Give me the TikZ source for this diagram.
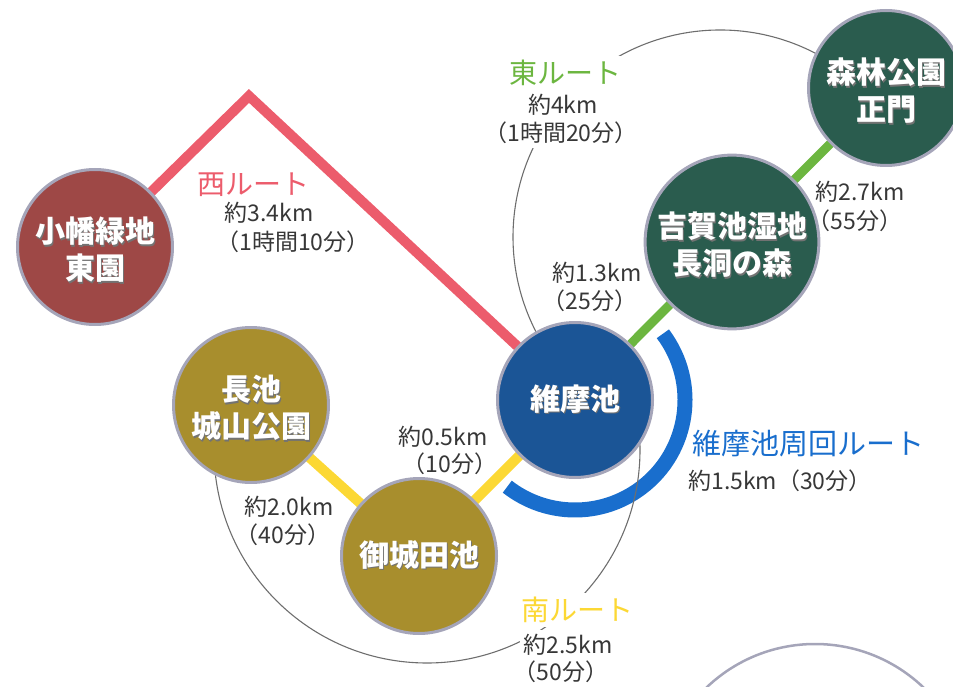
\documentclass[tikz,border=0pt]{standalone}
\usepackage{fontspec}
\newfontfamily\jp{Noto Sans CJK JP}
\usetikzlibrary{backgrounds}
\definecolor{obataC}{RGB}{158,72,70}
\definecolor{goldC}{RGB}{168,142,45}
\definecolor{yuimaC}{RGB}{27,85,150}
\definecolor{forestC}{RGB}{42,92,78}
\definecolor{rimC}{RGB}{165,165,185}
\definecolor{redL}{RGB}{236,92,108}
\definecolor{greenL}{RGB}{108,182,64}
\definecolor{yellowL}{RGB}{252,216,52}
\definecolor{blueL}{RGB}{25,110,205}
\definecolor{txtC}{RGB}{55,55,55}
\definecolor{arcC}{RGB}{110,110,110}
\newcommand\shd[1]{\makebox[0pt][l]{\raisebox{-1.2pt}{\hspace{1.2pt}\textcolor{black!55}{#1}}}#1}
\newcommand\placetext[2]{\vbox{\kern#1\hbox{\begin{tabular}{@{}c@{}}#2\end{tabular}}}}
\begin{document}
\begin{tikzpicture}[x=1pt,y=-1pt,
  place/.style={circle, minimum size=155pt, inner sep=0pt, draw=rimC, line width=3pt,
    text=white, font=\jp\bfseries\fontsize{30}{37}\selectfont},
  dist/.style={text=txtC, font=\jp\fontsize{23}{28}\selectfont, inner sep=2pt},
  route/.style={font=\jp\fontsize{28}{32}\selectfont, inner sep=2pt},
  guide/.style={draw=arcC, line width=1.1pt},
  blank/.style={fill=white, inner sep=4pt}]
\useasboundingbox (0,0) rectangle (953,687);
% stations
\node[place, fill=obataC]  (obata)   at (95,247)  {\placetext{14pt}{\shd{小幡緑地}\\\shd{東園}}};
\node[place, fill=goldC]   (nagaike) at (251,405) {\placetext{14pt}{\shd{長池}\\\shd{城山公園}}};
\node[place, fill=goldC]   (gojo)    at (419,556) {\placetext{6pt}{\shd{御城田池}}};
\node[place, fill=yuimaC]  (yuima)   at (575,400) {\placetext{6pt}{\shd{維摩池}}};
\node[place, fill=forestC] (yoshika) at (732,242) {\placetext{14pt}{\shd{吉賀池湿地}\\\shd{長洞の森}}};
\node[place, fill=forestC] (shinrin) at (886,88)  {\placetext{14pt}{\shd{森林公園}\\\shd{正門}}};
\begin{scope}
  \clip (0,0) rectangle (953,687);
  \node[circle, minimum size=314pt, draw=rimC, line width=2.5pt, fill=white] (other) at (815,801) {};
\end{scope}
\coordinate (peak) at (249,96);
\begin{scope}[on background layer]
  \draw[redL, line width=10pt, line join=miter] (obata.center) -- (peak) -- (yuima.center);
  \draw[greenL, line width=9pt] (yuima.center) -- (yoshika.center) -- (shinrin.center);
  \draw[yellowL, line width=10pt] (nagaike.center) -- (gojo.center) -- (yuima.center);
  \draw[blueL, line width=15pt] (yuima.center) ++(37:110pt) arc[start angle=37, end angle=-128, radius=110pt];
  \draw[guide] (720,237) ++(55:207pt) arc[start angle=55, end angle=210, radius=207pt];
  \draw[guide] (427,450) ++(180:213pt) arc[start angle=180, end angle=365, radius=213pt];
\end{scope}
% labels
\node[route, text=redL] (w1) at (253,185) {西ルート};
\node[dist] (w2) at (269,213) {約3.4km};
\node[dist] (w3) at (293,242) {（1時間10分）};
\node[route, text=greenL, blank] (e1) at (565,73) {東ルート};
\node[dist, blank] (e2) at (563,105) {約4km};
\node[dist, blank] (e3) at (561,133) {（1時間20分）};
\node[dist] (a1) at (597,273) {約1.3km};
\node[dist] (a2) at (590,301) {（25分）};
\node[dist] (b1) at (860,192) {約2.7km};
\node[dist] (b2) at (855,221) {（55分）};
\node[dist] (c1) at (443,437) {約0.5km};
\node[dist] (c2) at (450,464) {（10分）};
\node[dist] (d1) at (289,507) {約2.0km};
\node[dist] (d2) at (283,535) {（40分）};
\node[route, text=yellowL, blank] (s1) at (577,610) {南ルート};
\node[dist, blank] (s2) at (568,645) {約2.5km};
\node[dist, blank] (s3) at (561,672) {（50分）};
\node[route, text=blueL, font=\jp\fontsize{29}{32}\selectfont] (l1) at (808,444) {維摩池周回ルート};
\node[dist] (l2) at (780,481) {約1.5km（30分）};
\end{tikzpicture}
\end{document}
